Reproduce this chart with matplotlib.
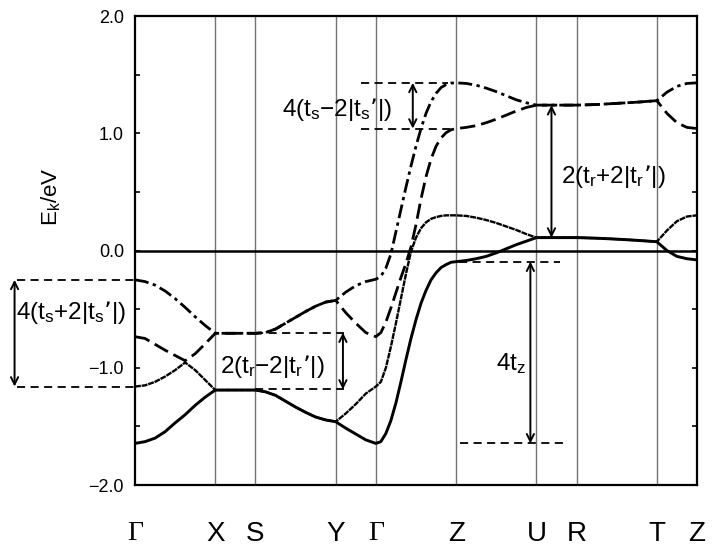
import numpy as np
import matplotlib.pyplot as plt

plt.rcParams['font.family'] = ['Liberation Sans', 'DejaVu Sans']
plt.rcParams['mathtext.default'] = 'regular'

# path coordinate along Γ-X-S-Y-Γ-Z-U-R-T-Z
k_path = [0, 0.25, 0.5, 0.75, 1.0, 1.25, 1.5, 1.75, 2.0,
          2.5, 3.0,
          3.25, 3.5, 3.75, 4.0, 4.25, 4.5, 4.75, 5.0,
          5.25, 5.5, 5.75, 6.0,
          6.125, 6.25, 6.375, 6.5, 6.625, 6.75, 6.875, 7.0,
          7.125, 7.25, 7.375, 7.5, 7.625, 7.75, 7.875, 8.0,
          8.25, 8.5, 8.75, 9.0, 9.25, 9.5, 9.75, 10.0,
          10.5, 11.0,
          11.5, 12.0, 12.5, 13.0,
          13.25, 13.5, 13.75, 14.0]

# bands, lowest to highest (eV)
band1 = [-1.645, -1.63, -1.60, -1.545, -1.47, -1.40, -1.32, -1.25, -1.19,
         -1.19, -1.19,
         -1.205, -1.235, -1.285, -1.335, -1.38, -1.42, -1.445, -1.46,
         -1.515, -1.565, -1.615, -1.645,
         -1.63, -1.56, -1.45, -1.30, -1.12, -0.93, -0.75, -0.59,
         -0.45, -0.34, -0.25, -0.19, -0.145, -0.12, -0.10, -0.095,
         -0.085, -0.07, -0.05, -0.02, 0.015, 0.05, 0.08, 0.11,
         0.11, 0.11,
         0.105, 0.097, 0.087, 0.075,
         0.0, -0.05, -0.07, -0.08]
band2 = [-1.16, -1.15, -1.12, -1.075, -1.02, -0.955, -1.02, -1.105, -1.19,
         -1.19, -1.19,
         -1.205, -1.235, -1.285, -1.335, -1.38, -1.42, -1.445, -1.46,
         -1.39, -1.31, -1.22, -1.16,
         -1.12, -1.00, -0.82, -0.62, -0.41, -0.20, -0.01, 0.11,
         0.19, 0.24, 0.27, 0.285, 0.295, 0.30, 0.30, 0.30,
         0.295, 0.28, 0.26, 0.235, 0.205, 0.175, 0.14, 0.11,
         0.11, 0.11,
         0.105, 0.097, 0.087, 0.075,
         0.17, 0.25, 0.29, 0.30]
band3 = [-0.735, -0.75, -0.80, -0.85, -0.895, -0.94, -0.88, -0.795, -0.706,
         -0.706, -0.706,
         -0.70, -0.67, -0.62, -0.57, -0.52, -0.475, -0.44, -0.425,
         -0.53, -0.62, -0.70, -0.735,
         -0.70, -0.61, -0.49, -0.36, -0.23, -0.11, 0.03, 0.22,
         0.44, 0.63, 0.78, 0.89, 0.96, 1.005, 1.03, 1.04,
         1.05, 1.065, 1.09, 1.12, 1.155, 1.19, 1.22, 1.24,
         1.24, 1.24,
         1.245, 1.255, 1.265, 1.278,
         1.17, 1.09, 1.05, 1.04]
band4 = [-0.25, -0.265, -0.295, -0.345, -0.41, -0.485, -0.565, -0.64, -0.706,
         -0.706, -0.706,
         -0.70, -0.67, -0.62, -0.57, -0.52, -0.475, -0.44, -0.425,
         -0.355, -0.30, -0.265, -0.245,
         -0.22, -0.15, -0.03, 0.16, 0.35, 0.54, 0.72, 0.89,
         1.04, 1.17, 1.27, 1.34, 1.39, 1.415, 1.428, 1.43,
         1.425, 1.41, 1.385, 1.355, 1.32, 1.285, 1.26, 1.24,
         1.24, 1.24,
         1.245, 1.255, 1.265, 1.278,
         1.35, 1.40, 1.425, 1.43]

sym_pos = [0, 2, 3, 5, 6, 8, 10, 11, 13, 14]
sym_names = ['Γ', 'X', 'S', 'Y', 'Γ', 'Z', 'U', 'R', 'T', 'Z']
y_ticks = [-2.0, -1.0, 0.0, 1.0, 2.0]
y_ticklabels = ['−2.0', '−1.0', '0.0', '1.0', '2.0']

fig = plt.figure(figsize=(7.15, 5.54), dpi=100)
ax = fig.add_axes([0.1888, 0.1245, 0.786, 0.8466])

for p in sym_pos[1:-1]:
    ax.axvline(p, color='0.45', lw=1.0, zorder=1)
ax.axhline(0, color='black', lw=1.8, zorder=2)

ax.plot(k_path, band1, color='black', lw=2.1, ls='-')
ax.plot(k_path, band2, color='black', lw=1.7, ls=(0, (2.5, 0.35)))
ax.plot(k_path, band3, color='black', lw=2.0, ls=(0, (5.5, 2.2)))
ax.plot(k_path, band4, color='black', lw=2.0, ls=(0, (5, 1.6, 1.2, 1.6)))

guide = dict(color='black', lw=1.3, ls=(0, (4.5, 3)), clip_on=False)
arrow = dict(arrowstyle='<->', lw=1.4, color='black', shrinkA=0, shrinkB=0,
             mutation_scale=13)

def gap(k_arrow, e_top, e_bot, lines):
    for k0, k1, e in lines:
        ax.plot([k0, k1], [e, e], **guide)
    ax.annotate('', xy=(k_arrow, e_top), xytext=(k_arrow, e_bot),
                arrowprops=arrow, annotation_clip=False)

fs = 17.5
gap(-3.0, -0.25, -1.16, [(-2.95, 0, -0.25), (-2.95, 0, -1.16)])
ax.text(-1.58, -0.53, '4(t$_s$+2|t$_s$’|)', fontsize=fs, ha='center', va='center')

gap(5.18, -0.70, -1.185, [(3.0, 5.2, -0.70), (3.0, 5.2, -1.185)])
ax.text(3.41, -0.99, '2(t$_r$−2|t$_r$’|)', fontsize=fs, ha='center', va='center')

gap(6.92, 1.43, 1.04, [(5.625, 7.8, 1.43), (5.625, 7.9, 1.04)])
ax.text(5.04, 1.2, '4(t$_s$−2|t$_s$’|)', fontsize=fs, ha='center', va='center')

gap(10.375, 1.24, 0.11, [])
ax.text(11.92, 0.63, '2(t$_r$+2|t$_r$’|)', fontsize=fs, ha='center', va='center')

gap(9.85, -0.095, -1.645, [(8.07, 10.6, -0.095), (8.1, 10.7, -1.645)])
ax.text(9.75, -0.96, '4t$_z$', fontsize=fs, ha='right', va='center')

ax.set_xlim(0, 14)
ax.set_ylim(-2, 2)
ax.set_yticks(y_ticks)
ax.set_yticklabels(y_ticklabels, fontsize=13)
ax.set_yticks([-1.5, -0.5, 0.5, 1.5], minor=True)
ax.tick_params(axis='y', which='both', direction='in', left=True, right=True,
               length=3.6, width=1.2, pad=8)
ax.set_xticks(sym_pos)
ax.set_xticklabels(sym_names, fontsize=20)
ax.tick_params(axis='x', length=0, pad=26)
for lab in ax.get_xticklabels():
    if lab.get_text() == 'Γ':
        lab.set_fontfamily('Liberation Serif')
ax.set_ylabel('E$_k$/eV', fontsize=16)
ax.yaxis.set_label_coords(-0.128, 0.614)

for s in ax.spines.values():
    s.set_linewidth(1.6)

fig.savefig('out.png', dpi=100)
